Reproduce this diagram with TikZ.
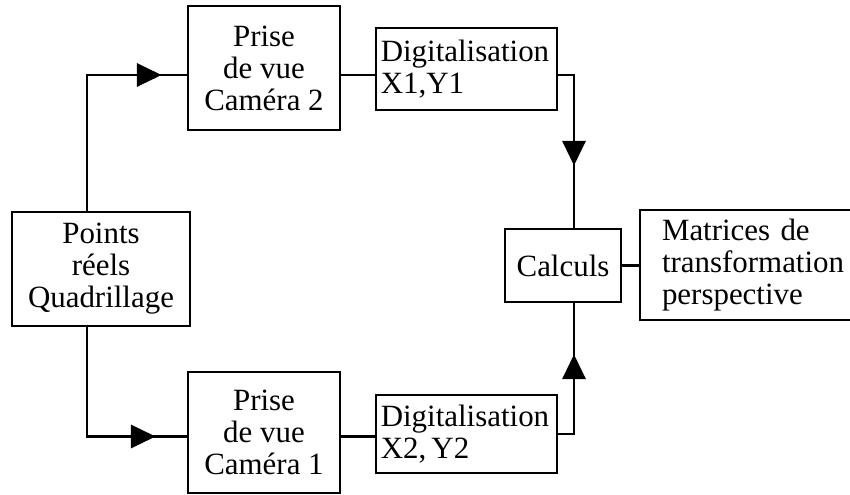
\documentclass[tikz,border=0pt]{standalone}
\usepackage{fontspec}
\setmainfont{Liberation Serif}
\usepackage{tikz}
\usetikzlibrary{arrows.meta, positioning, calc, decorations.markings}

\begin{document}
\begin{tikzpicture}[
    line width=2pt,
    block/.style={rectangle, draw=black, fill=white, minimum width=#1, align=center, inner sep=0pt, font=\fontsize{22}{22.8}\selectfont},
    digit/.style={rectangle, draw=black, fill=white, minimum width=4.525cm, inner xsep=0.12cm, inner ysep=0pt, text width=4.285cm, align=left, font=\fontsize{22}{22.8}\selectfont},
    flow/.style={postaction={decorate}, decoration={markings, mark=at position #1 with {\arrow{Triangle[length=0.62cm, width=0.58cm]}}}}
]
\useasboundingbox (0,0) rectangle (21.25,12.35);

% Source and cameras
\node[block=4.45cm, minimum height=2.85cm] (pts) at (2.525, 5.625) {Points\\réels\\Quadrillage};
\node[block=3.8cm, minimum height=3.1cm] (cam2) at (6.6, 10.65) {Prise\\de vue\\Caméra 2};
\node[block=3.8cm, minimum height=3.025cm] (cam1) at (6.6, 1.5375) {Prise\\de vue\\Caméra 1};

% Digitalisation
\node[digit, minimum height=2.05cm] (dig1) at (11.6625, 10.625) {Digitalisation\\X1,Y1};
\node[digit, minimum height=1.95cm] (dig2) at (11.6625, 1.5) {Digitalisation\\X2,\,Y2};

% Calculs and result
\node[block=2.9cm, minimum height=1.825cm] (cal) at (14.075, 5.7125) {Calculs};
\node[block=5.75cm, minimum height=2.75cm, inner xsep=0.55cm, text width=4.65cm, align=left] (mat) at (18.875, 5.725) {Matrices de\\transformation\\perspective};

% Connectors
\draw[flow=-0.625cm] ([xshift=-0.35cm]pts.north) |- ([yshift=-0.175cm]cam2.west);
\draw[flow=-0.775cm] ([xshift=-0.35cm]pts.south) |- ([yshift=-0.1cm]cam1.west);
\draw ([yshift=-0.175cm]cam2.east) -- ([yshift=-0.175cm]cam2.east -| dig1.west);
\draw ([yshift=-0.1cm]cam1.east) -- ([yshift=-0.1cm]cam1.east -| dig2.west);
\draw[flow=-1.55cm] ([yshift=-0.15cm]dig1.east) -| ([xshift=0.275cm]cal.north);
\draw[flow=-1.275cm] (dig2.east) -| ([xshift=0.275cm]cal.south);
\draw (cal.east) -- (cal.east -| mat.west);

\end{tikzpicture}
\end{document}
